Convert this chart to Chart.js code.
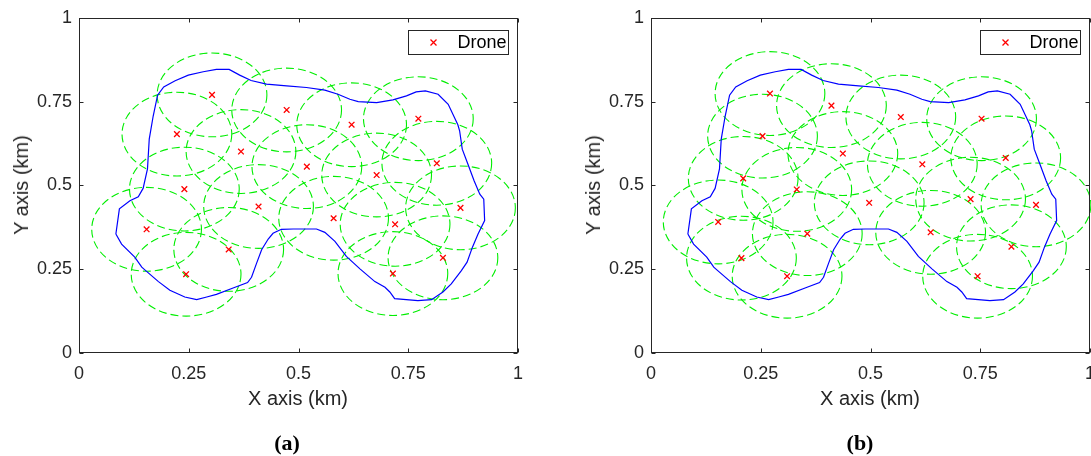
<!DOCTYPE html>
<html>
<head>
<meta charset="utf-8">
<script src="https://cdn.jsdelivr.net/npm/chart.js@4.4.0/dist/chart.umd.min.js"></script>
<style>
    html, body { margin: 0; padding: 0; background: #fff; width: 1091px; height: 456px; overflow: hidden; }
    .panel { position: absolute; top: 0; width: 545px; height: 456px; }
    .panel canvas { position: absolute; left: 0; top: 0; }
    .axis-title {
        position: absolute; font-family: "Liberation Sans", Arial, sans-serif; font-size: 20px;
        color: #262626; white-space: nowrap; line-height: 1; transform: translate(-50%, -50%);
    }
    .axis-title.vertical { transform: translate(-50%, -50%) rotate(-90deg); }
    .caption {
        position: absolute; font-family: "Liberation Serif", "DejaVu Serif", serif; font-size: 22px;
        font-weight: bold; color: #000; line-height: 1; transform: translate(-50%, -50%);
    }
</style>
</head>
<body>
<div class="panel" style="left:0px">
    <canvas id="chartA" width="545" height="456"></canvas>
    <div class="axis-title" style="left:298px; top:398px">X axis (km)</div>
    <div class="axis-title vertical" style="left:21px; top:185px">Y axis (km)</div>
    <div class="caption" style="left:287px; top:443px">(a)</div>
</div>
<div class="panel" style="left:572px">
    <canvas id="chartB" width="545" height="456"></canvas>
    <div class="axis-title" style="left:298px; top:398px">X axis (km)</div>
    <div class="axis-title vertical" style="left:21px; top:185px">Y axis (km)</div>
    <div class="caption" style="left:288px; top:443px">(b)</div>
</div>
<script>
// Drone positions, panel (a)
const droneAX = [0.303, 0.473, 0.621, 0.773, 0.223, 0.369, 0.519, 0.678, 0.815, 0.240,
                 0.409, 0.580, 0.720, 0.869, 0.154, 0.341, 0.244, 0.715, 0.829];
const droneAY = [0.770, 0.725, 0.681, 0.699, 0.653, 0.601, 0.556, 0.531, 0.566, 0.489,
                 0.437, 0.402, 0.384, 0.433, 0.369, 0.309, 0.235, 0.237, 0.284];

// Drone positions, panel (b)
const droneBX = [0.271, 0.411, 0.569, 0.753, 0.254, 0.437, 0.618, 0.808, 0.210, 0.332,
                 0.497, 0.728, 0.877, 0.153, 0.356, 0.637, 0.206, 0.310, 0.821, 0.744];
const droneBY = [0.774, 0.738, 0.704, 0.699, 0.647, 0.595, 0.563, 0.582, 0.521, 0.488,
                 0.448, 0.459, 0.442, 0.391, 0.356, 0.360, 0.283, 0.229, 0.317, 0.229];

// Target area boundary (same in both panels)
const boundaryX = [0.084, 0.092, 0.116, 0.135, 0.146, 0.156, 0.160, 0.169, 0.179, 0.193,
                   0.219, 0.249, 0.283, 0.313, 0.342, 0.366, 0.392, 0.427, 0.473, 0.518,
                   0.560, 0.590, 0.617, 0.636, 0.678, 0.715, 0.746, 0.768, 0.789, 0.818,
                   0.841, 0.863, 0.867, 0.873, 0.886, 0.900, 0.913, 0.922, 0.924, 0.909,
                   0.896, 0.884, 0.871, 0.848, 0.829, 0.803, 0.772, 0.719, 0.708, 0.697,
                   0.674, 0.640, 0.609, 0.583, 0.560, 0.541, 0.518, 0.488, 0.461, 0.442,
                   0.431, 0.416, 0.404, 0.393, 0.384, 0.351, 0.313, 0.291, 0.268, 0.241,
                   0.207, 0.181, 0.150, 0.143, 0.127, 0.097];
const boundaryY = [0.355, 0.430, 0.454, 0.466, 0.491, 0.549, 0.638, 0.707, 0.769, 0.794,
                   0.812, 0.829, 0.839, 0.846, 0.846, 0.829, 0.813, 0.802, 0.797, 0.792,
                   0.784, 0.772, 0.757, 0.750, 0.747, 0.755, 0.767, 0.779, 0.782, 0.772,
                   0.742, 0.681, 0.663, 0.608, 0.563, 0.514, 0.474, 0.459, 0.395, 0.355,
                   0.315, 0.271, 0.246, 0.206, 0.182, 0.159, 0.156, 0.162, 0.182, 0.196,
                   0.213, 0.251, 0.288, 0.333, 0.360, 0.370, 0.370, 0.370, 0.369, 0.357,
                   0.340, 0.308, 0.266, 0.226, 0.210, 0.194, 0.175, 0.167, 0.159, 0.167,
                   0.187, 0.213, 0.248, 0.256, 0.286, 0.325];

const coverRadius = 0.125; // coverage radius of each drone (km)

const tickValues = [0, 0.25, 0.5, 0.75, 1];
const tickLabels = ['0', '0.25', '0.5', '0.75', '1'];

const FONT = '"Liberation Sans", Arial, sans-serif';
const AXIS_COLOR = '#262626';

const toPoints = (xs, ys) => xs.map((x, i) => ({ x: x, y: ys[i] }));

// Green dashed coverage circles around each drone
const coverPlugin = {
    id: 'coverCircles',
    beforeDatasetsDraw(chart) {
        const { ctx, scales: { x, y } } = chart;
        const drones = chart.data.datasets[1].data;
        ctx.save();
        ctx.strokeStyle = '#00ee00';
        ctx.lineWidth = 1.1;
        ctx.setLineDash([8, 4]);
        drones.forEach(p => {
            const cx = x.getPixelForValue(p.x);
            const cy = y.getPixelForValue(p.y);
            const rx = x.getPixelForValue(p.x + coverRadius) - cx;
            const ry = cy - y.getPixelForValue(p.y + coverRadius);
            ctx.beginPath();
            ctx.ellipse(cx, cy, rx, ry, 0, 0, Math.PI * 2);
            ctx.stroke();
        });
        ctx.restore();
    }
};

// MATLAB style box with inward ticks, plus the boxed legend
const framePlugin = {
    id: 'frame',
    afterDraw(chart) {
        const { ctx, chartArea: a, scales: { x, y } } = chart;
        const L = Math.round(a.left) + 0.5, R = Math.round(a.right) - 0.5;
        const T = Math.round(a.top) + 0.5, B = Math.round(a.bottom) - 0.5;
        const tick = 4;
        ctx.save();
        ctx.strokeStyle = AXIS_COLOR;
        ctx.lineWidth = 1;
        ctx.strokeRect(L, T, R - L, B - T);
        ctx.beginPath();
        tickValues.forEach(v => {
            const px = Math.round(x.getPixelForValue(v)) + 0.5;
            const py = Math.round(y.getPixelForValue(v)) + 0.5;
            ctx.moveTo(px, B); ctx.lineTo(px, B - tick);
            ctx.moveTo(px, T); ctx.lineTo(px, T + tick);
            ctx.moveTo(L, py); ctx.lineTo(L + tick, py);
            ctx.moveTo(R, py); ctx.lineTo(R - tick, py);
        });
        ctx.stroke();

        // legend
        const bw = 100, bh = 24;
        const bx = Math.round(a.right) - 10 - bw + 0.5;
        const by = Math.round(a.top) + 12 + 0.5;
        ctx.fillStyle = '#fff';
        ctx.fillRect(bx, by, bw, bh);
        ctx.strokeStyle = AXIS_COLOR;
        ctx.strokeRect(bx, by, bw, bh);
        const mx = bx + 25, my = by + bh / 2;
        ctx.strokeStyle = '#ff0000';
        ctx.lineWidth = 1.3;
        ctx.beginPath();
        ctx.moveTo(mx - 3, my - 3); ctx.lineTo(mx + 3, my + 3);
        ctx.moveTo(mx - 3, my + 3); ctx.lineTo(mx + 3, my - 3);
        ctx.stroke();
        ctx.fillStyle = '#000';
        ctx.font = '18px ' + FONT;
        ctx.textBaseline = 'middle';
        ctx.textAlign = 'left';
        ctx.fillText('Drone', bx + 49, my + 1);
        ctx.restore();
    }
};

function axisOptions(isX) {
    return {
        type: 'linear',
        min: 0,
        max: 1,
        grid: { display: false, drawTicks: false },
        border: { display: false },
        ticks: {
            padding: isX ? 10 : 7,
            color: AXIS_COLOR,
            maxRotation: 0,
            font: { family: FONT, size: 18 },
            callback: value => tickLabels[tickValues.indexOf(value)]
        },
        afterBuildTicks: scale => { scale.ticks = tickValues.map(v => ({ value: v })); },
        afterFit: scale => {
            if (isX) scale.height = 103;
            else scale.width = 79;
        }
    };
}

function makeChart(id, droneX, droneY) {
    const boundary = toPoints(boundaryX, boundaryY);
    boundary.push(boundary[0]);
    return new Chart(document.getElementById(id), {
        type: 'scatter',
        data: {
            datasets: [
                {
                    label: 'Boundary',
                    data: boundary,
                    showLine: true,
                    borderColor: '#0000ff',
                    borderWidth: 1.2,
                    pointRadius: 0,
                    tension: 0,
                    fill: false
                },
                {
                    label: 'Drone',
                    data: toPoints(droneX, droneY),
                    pointStyle: 'crossRot',
                    pointRadius: 4,
                    borderColor: '#ff0000',
                    backgroundColor: '#ff0000',
                    borderWidth: 1.3
                }
            ]
        },
        options: {
            responsive: false,
            animation: false,
            devicePixelRatio: 1,
            layout: { padding: { left: 0, top: 17, right: 27, bottom: 0 } },
            plugins: {
                legend: { display: false },
                tooltip: { enabled: false }
            },
            scales: {
                x: axisOptions(true),
                y: axisOptions(false)
            }
        },
        plugins: [coverPlugin, framePlugin]
    });
}

makeChart('chartA', droneAX, droneAY);
makeChart('chartB', droneBX, droneBY);
</script>
</body>
</html>
